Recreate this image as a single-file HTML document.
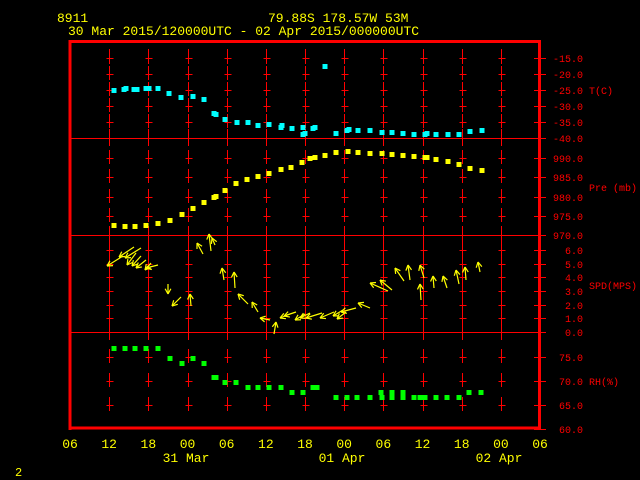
<!DOCTYPE html>
<html><head><meta charset="utf-8"><style>
html,body{margin:0;padding:0;background:#000;}
svg{display:block}
text{font-family:"Liberation Mono",monospace;}
</style></head><body>
<svg id="s" width="640" height="480" xmlns="http://www.w3.org/2000/svg">
<rect width="640" height="480" fill="#000"/>
<g fill="#ffff00" font-size="13">
<text x="57" y="22">8911</text>
<text x="268" y="22">79.88S  178.57W    53M</text>
<text x="68" y="35">30 Mar 2015/120000UTC - 02 Apr 2015/000000UTC</text>
<text x="15" y="476" font-size="12">2</text>
</g>
<g id="grid" stroke="#ff0000" stroke-width="1" fill="none" shape-rendering="crispEdges"></g>
<g id="data"></g>
<g id="labels" fill="#ff0000" font-size="10"></g>
<g id="xl" fill="#ffff00" font-size="13" text-anchor="middle"></g>
</svg>
<script>
const NS="http://www.w3.org/2000/svg";
function el(p,t,a,txt){const e=document.createElementNS(NS,t);for(const k in a)e.setAttribute(k,a[k]);if(txt!==undefined)e.textContent=txt;document.getElementById(p).appendChild(e);return e;}
function ln(p,x1,y1,x2,y2,c,w){el(p,'line',{x1,y1,x2,y2,stroke:c||'#ff0000','stroke-width':w||1});}
// frame
ln('grid',70,41.5,540,41.5,'#f00',3);
ln('grid',70,428,540,428,'#f00',3);
ln('grid',70,40,70,430,'#f00',3);
ln('grid',539.5,40,539.5,430,'#f00',3);
[138,235,332].forEach(y=>ln('grid',70,y+0.5,540,y+0.5,'#f00',1));
const T=[58,74,90,106,122,138],P=[158,177,197,216,235],S=[250,264,277,291,305,318,332],R=[357,381,405,429];
const all=[...T,...P,...S,...R];
for(let k=1;k<=11;k++){const x=Math.round(70+39.17*k)+0.5;
 [...T.slice(0,5),...P.slice(0,4),...S.slice(0,6),...R.slice(0,3)].forEach(y=>{ln('grid',x,y-8,x,y+6);ln('grid',x-3,y+0.5,x+4,y+0.5);});
 [138,235,332].forEach(y=>ln('grid',x,y-9,x,y+8));
 ln('grid',x,49,x,52);
}
all.forEach(y=>ln('grid',534,y+0.5,546,y+0.5));
const lab=[[58,'-15.0'],[74,'-20.0'],[90,'-25.0'],[106,'-30.0'],[122,'-35.0'],[138,'-40.0'],[158,'990.0'],[177,'985.0'],[197,'980.0'],[216,'975.0'],[235,'970.0'],[250,'6.0'],[264,'5.0'],[277,'4.0'],[291,'3.0'],[305,'2.0'],[318,'1.0'],[332,'0.0'],[357,'75.0'],[381,'70.0'],[405,'65.0'],[429,'60.0']];
lab.forEach(([y,t])=>el('labels','text',{x:583,y:y+4,'text-anchor':'end'},t));
[[90,'T(C)'],[187,'Pre (mb)'],[285,'SPD(MPS)'],[381,'RH(%)']].forEach(([y,t])=>el('labels','text',{x:589,y:y+4},t));
const hr=['06','12','18','00','06','12','18','00','06','12','18','00','06'];
hr.forEach((h,i)=>el('xl','text',{x:70+39.17*i,y:448},h));
[[186,'31 Mar'],[342,'01 Apr'],[499,'02 Apr']].forEach(([x,t])=>el('xl','text',{x:x,y:462},t));
function pts(arr,c){arr.forEach(([x,y])=>el('data','rect',{x:x-2.5,y:y-2,width:5,height:5,fill:c}));}
pts([[114,90],[124,89],[126,88],[134,89],[137,89],[146,88],[149,88],[158,88],[169,93],[181,97],[193,96],[204,99],[214,113],[216,114],[225,119],[237,122],[248,122],[258,125],[269,124],[281,127],[282,125],[292,128],[303,127],[303,134],[305,133],[313,128],[315,127],[325,66],[336,133],[347,130],[349,129],[358,130],[370,130],[382,132],[392,132],[403,133],[414,134],[425,134],[427,133],[436,134],[448,134],[459,134],[470,131],[482,130]],'#00ffff');
pts([[114,225],[125,226],[135,226],[146,225],[158,223],[170,220],[182,214],[193,208],[204,202],[214,197],[216,196],[225,190],[236,183],[247,179],[258,176],[269,173],[281,169],[291,167],[302,162],[310,158],[315,157],[325,155],[336,152],[348,151],[358,152],[370,153],[382,153],[392,154],[403,155],[414,156],[425,157],[427,157],[436,159],[448,161],[459,164],[470,168],[482,170]],'#ffff00');
pts([[114,348],[125,348],[135,348],[146,348],[158,348],[170,358],[182,363],[193,358],[204,363],[214,377],[216,377],[225,382],[236,382],[248,387],[258,387],[269,387],[281,387],[292,392],[303,392],[313,387],[317,387],[336,397],[347,397],[357,397],[370,397],[382,397],[381,392],[392,392],[392,397],[403,392],[403,397],[414,397],[420,397],[425,397],[436,397],[447,397],[459,397],[469,392],[481,392]],'#00ff00');
const A=[[123,256,107,266],[134,247,119,257],[141,248,125,258],[136,253,127,265],[141,256,132,266],[146,260,136,268],[158,265,146,268],[151,263,145,270],
[168,284,168,294],[181,297,172,306],[191,306,190,294],[203,254,197,243],[211,251,209,234],[215,245,212,238],
[224,280,222,268],[235,288,234,272],[248,304,238,294],[258,312,252,302],[270,320,260,318],[274,334,276,322],
[290,314,280,318],[296,312,284,316],[305,314,295,320],[310,313,300,318],[322,313,306,318],[334,312,320,318],[343,310,333,316],[346,312,337,319],[356,308,341,312],[370,308,358,303],
[388,291,370,283],[392,290,380,280],[404,281,395,268],[410,280,408,265],[424,278,420,265],[421,300,420,284],[434,288,433,276],[447,288,443,276],[459,284,456,270],[466,280,465,267],[480,272,478,262]];
A.forEach(([x1,y1,x2,y2])=>{ln('data',x1,y1,x2,y2,'#ffff00',1.2);
 const a=Math.atan2(y1-y2,x1-x2),L=6;
 [0.5,-0.5].forEach(d=>ln('data',x2,y2,x2+L*Math.cos(a+d),y2+L*Math.sin(a+d),'#ffff00',1.2));});
</script>
</body></html>
